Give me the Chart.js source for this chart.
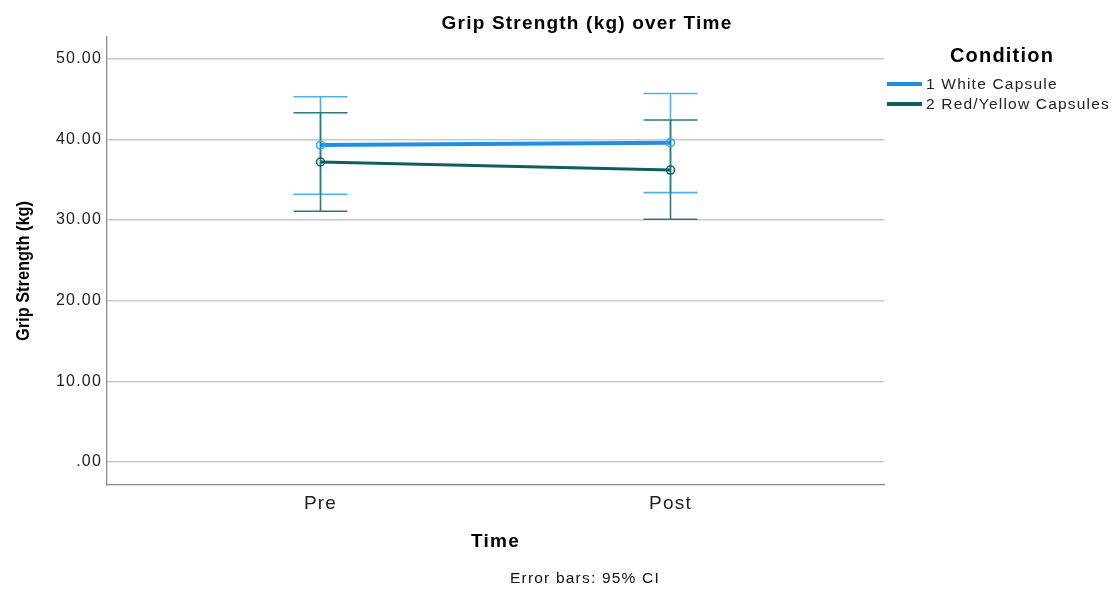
<!DOCTYPE html>
<html>
<head>
<meta charset="utf-8">
<script src="https://cdn.jsdelivr.net/npm/chart.js@4.4.1/dist/chart.umd.min.js"></script>
<style>
  html, body { margin: 0; padding: 0; background: #fff; }
</style>
</head>
<body>
<canvas id="grip" width="1119" height="592"></canvas>
<script>
// ---- data ----
const times = ["Pre", "Post"];
const conditions = ["1 White Capsule", "2 Red/Yellow Capsules"];
const whiteMean = [39.3, 39.6];
const whiteLow = [33.2, 33.4];
const whiteHigh = [45.3, 45.7];
const redMean = [37.2, 36.2];
const redLow = [31.1, 30.1];
const redHigh = [43.3, 42.4];
const yTicks = [0, 10, 20, 30, 40, 50];

// ---- colours ----
const whiteLine = "#1f8fe3";
const whiteBar = "#4cb2ec";
const redLine = "#0d5f5f";
const redBar = "#2a7b78";

const FONT = "'Liberation Sans', Arial, sans-serif";
const toXY = arr => arr.map((v, i) => ({ x: i, y: v }));

// error bars + legend + titles
const extrasPlugin = {
  id: "extras",
  beforeDraw(chart) {
    // SPSS-ish wide text
    chart.ctx.letterSpacing = "1.2px";
  },
  beforeDatasetsDraw(chart) {
    const ctx = chart.ctx;
    const xs = chart.scales.x, ys = chart.scales.y;
    const sets = [
      { lo: whiteLow, hi: whiteHigh, color: whiteBar },
      { lo: redLow, hi: redHigh, color: redBar }
    ];
    ctx.save();
    sets.forEach(s => {
      ctx.strokeStyle = s.color;
      ctx.lineWidth = 1.6;
      for (let i = 0; i < times.length; i++) {
        const px = xs.getPixelForValue(i);
        const top = ys.getPixelForValue(s.hi[i]);
        const bot = ys.getPixelForValue(s.lo[i]);
        ctx.beginPath();
        ctx.moveTo(px, top); ctx.lineTo(px, bot);
        ctx.moveTo(px - 27, top); ctx.lineTo(px + 27, top);
        ctx.moveTo(px - 27, bot); ctx.lineTo(px + 27, bot);
        ctx.stroke();
      }
    });
    ctx.restore();
  },
  afterDraw(chart) {
    const ctx = chart.ctx;
    ctx.save();
    ctx.fillStyle = "#000";
    ctx.textAlign = "center";
    ctx.textBaseline = "middle";
    ctx.letterSpacing = "1.2px";
    ctx.font = "bold 19px " + FONT;
    ctx.fillText("Grip Strength (kg) over Time", 587, 24);
    ctx.font = "15.5px " + FONT;
    ctx.fillStyle = "#111";
    ctx.fillText("Error bars: 95% CI", 585, 579);

    // legend
    ctx.fillStyle = "#000";
    ctx.font = "bold 20px " + FONT;
    ctx.fillText("Condition", 1002, 56);
    ctx.textAlign = "left";
    ctx.font = "15.5px " + FONT;
    const cols = [whiteLine, redLine];
    conditions.forEach((c, i) => {
      const y = 84 + i * 20;
      ctx.strokeStyle = cols[i];
      ctx.lineWidth = 4;
      ctx.beginPath();
      ctx.moveTo(887, y); ctx.lineTo(922, y);
      ctx.stroke();
      ctx.fillStyle = "#222";
      ctx.fillText(c, 926, y + 1);
    });

    // y axis title, condensed
    ctx.letterSpacing = "0px";
    ctx.font = "bold 18px " + FONT;
    const txt = "Grip Strength (kg)";
    const sx = 140 / ctx.measureText(txt).width;
    ctx.translate(24, 271);
    ctx.rotate(-Math.PI / 2);
    ctx.scale(sx, 1);
    ctx.textAlign = "center";
    ctx.fillStyle = "#000";
    ctx.fillText(txt, 0, 0);
    ctx.restore();
  }
};

const chart = new Chart(document.getElementById("grip"), {
  type: "line",
  data: {
    datasets: [
      {
        label: conditions[0],
        data: toXY(whiteMean),
        borderColor: whiteLine,
        borderWidth: 4,
        pointRadius: 4,
        pointBorderWidth: 1.5,
        pointBorderColor: "#3aa6e8",
        pointBackgroundColor: "rgba(255,255,255,0)",
        tension: 0
      },
      {
        label: conditions[1],
        data: toXY(redMean),
        borderColor: redLine,
        borderWidth: 3,
        pointRadius: 4,
        pointBorderWidth: 1.5,
        pointBorderColor: redLine,
        pointBackgroundColor: "rgba(255,255,255,0)",
        tension: 0
      }
    ]
  },
  options: {
    responsive: false,
    animation: false,
    devicePixelRatio: 1,
    layout: { padding: { top: 37, right: 235, left: 0, bottom: 0 } },
    plugins: {
      legend: { display: false },
      tooltip: { enabled: false },
      title: { display: false }
    },
    scales: {
      x: {
        type: "linear",
        min: -0.61,
        max: 1.61,
        afterBuildTicks: s => { s.ticks = times.map((t, i) => ({ value: i })); },
        afterFit: s => { s.height = 107; },
        grid: { display: false, drawTicks: false },
        border: { display: true, color: "#8a8a8a", width: 1.3 },
        ticks: {
          padding: 7,
          color: "#222",
          font: { family: FONT, size: 19 },
          callback: v => times[v]
        },
        title: {
          display: true,
          text: "Time",
          color: "#000",
          font: { family: FONT, size: 19, weight: "bold" },
          padding: { top: 0, bottom: 39 }
        }
      },
      y: {
        min: -2.85,
        max: 52.7,
        afterBuildTicks: s => { s.ticks = yTicks.map(v => ({ value: v })); },
        afterFit: s => { s.width = 107; },
        grid: { color: "#c9c9c9", lineWidth: 1.5, drawTicks: false },
        border: { display: true, color: "#8a8a8a", width: 1.3 },
        ticks: {
          padding: 5,
          color: "#222",
          font: { family: FONT, size: 16 },
          callback: v => v === 0 ? ".00" : v.toFixed(2)
        },
        title: { display: false }
      }
    }
  },
  plugins: [extrasPlugin]
});
</script>
</body>
</html>
